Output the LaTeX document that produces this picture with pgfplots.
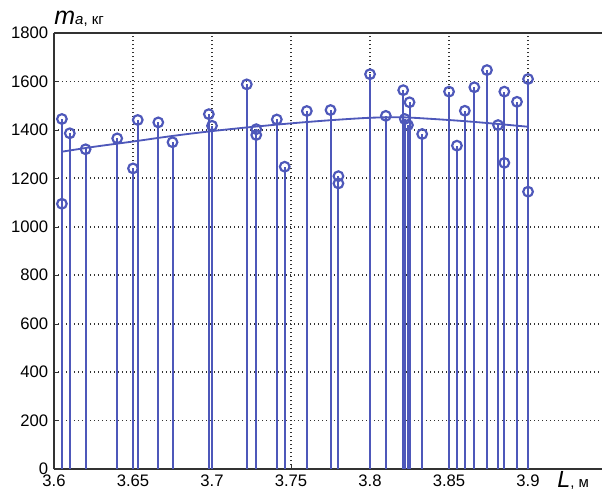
\documentclass[border=0pt]{standalone}
\usepackage{fontspec}
\setmainfont{Liberation Sans}
\usepackage{pgfplots}
\pgfplotsset{compat=1.18}
\definecolor{stem}{RGB}{78,88,186}
\pgfplotstableread{
x y
3.605 1445
3.605 1095
3.610 1386
3.620 1320
3.640 1365
3.650 1241
3.653 1441
3.666 1431
3.675 1349
3.698 1465
3.700 1417
3.722 1588
3.728 1403
3.728 1379
3.741 1443
3.746 1248
3.760 1478
3.775 1482
3.780 1209
3.780 1179
3.800 1630
3.810 1458
3.821 1564
3.822 1445
3.825 1514
3.824 1420
3.833 1383
3.850 1558
3.855 1335
3.860 1479
3.866 1576
3.874 1647
3.881 1420
3.885 1558
3.885 1264
3.893 1516
3.900 1610
3.900 1145
}\stems
\pgfplotstableread{
x y
3.605 1310
3.625 1330
3.650 1352
3.675 1375
3.700 1395
3.725 1412
3.750 1427
3.775 1440
3.800 1450
3.820 1452
3.840 1445
3.860 1436
3.880 1425
3.900 1413
}\fit
\begin{document}
\begin{tikzpicture}
\begin{axis}[
  scale only axis, width=328.8pt, height=261.6pt,
  xmin=3.6, xmax=3.9468, ymin=0, ymax=1800,
  axis x line*=bottom, axis y line*=left,
  axis line style={black!80, line width=0.9pt, -},
  xtick={3.6,3.65,3.7,3.75,3.8,3.85,3.9},
  xticklabels={3.6,3.65,3.7,3.75,3.8,3.85,3.9},
  ytick={0,200,400,600,800,1000,1200,1400,1600,1800},
  yticklabels={0,200,400,600,800,1000,1200,1400,1600,1800},
  grid=major, grid style={black!80, dotted, line width=1.1pt},
  tick style={black!80},
  tick align=inside, major tick length=3pt,
  /pgf/number format/assume math mode=true,
  ticklabel style={font=\fontsize{10}{12}\selectfont},
]
\addplot[stem, line width=1.2pt, ycomb, mark=o, mark size=2.9pt, mark options={solid, line width=1.3pt}] table[x=x,y=y] {\stems};
\addplot[stem, line width=1.1pt, no marks, smooth] table[x=x,y=y] {\fit};
\coordinate (bl) at (rel axis cs:0,0);
\coordinate (tr) at (rel axis cs:1,1);
\coordinate (tl) at (rel axis cs:0,1);
\coordinate (xl) at (rel axis cs:0.918,0);
\end{axis}
\draw[black!80, line width=0.9pt] (tl) -- (tr);
\node[anchor=base west, inner sep=0pt, yshift=5.4pt] at (tl) {\fontsize{15}{15}\selectfont\textit{m}\fontsize{9}{9}\selectfont\textit{a}, кг};
\node[anchor=base west, inner sep=0pt, yshift=-11pt] at (xl) {\fontsize{14}{14}\selectfont\textit{L}\fontsize{9}{9}\selectfont, м};
\pgfresetboundingbox
\useasboundingbox ([xshift=-32.4pt,yshift=-13.8pt]bl) rectangle ([yshift=19.8pt]tr);
\end{tikzpicture}
\end{document}
